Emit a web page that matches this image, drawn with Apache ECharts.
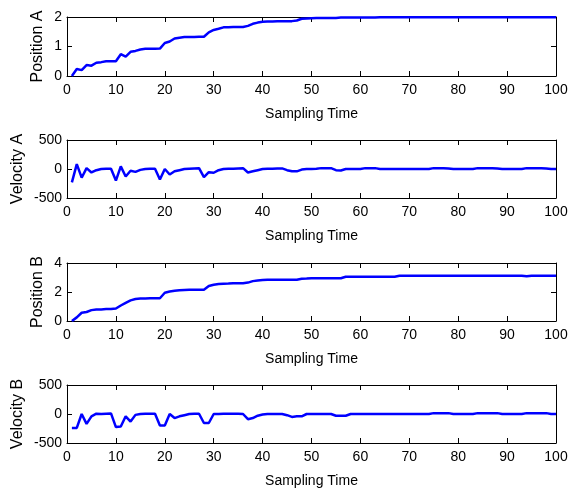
<!DOCTYPE html>
<html>
<head>
<meta charset="utf-8">
<script src="https://cdn.jsdelivr.net/npm/echarts@6/dist/echarts.min.js"></script>
<style>
html,body{margin:0;padding:0;background:#fff;}
#chart{width:568px;height:491px;}
</style>
</head>
<body>
<div id="chart"></div>
<script>
// Sampling times 1..100
const time = Array.from({length: 100}, (_, i) => i + 1);

const positionA = [
  0, 0.24, 0.2, 0.37, 0.35, 0.45, 0.47, 0.5, 0.5, 0.5,
  0.74, 0.66, 0.82, 0.85, 0.9, 0.92, 0.92, 0.92, 0.93, 1.12,
  1.17, 1.27, 1.3, 1.32, 1.32, 1.32, 1.33, 1.33, 1.48, 1.56,
  1.6, 1.65, 1.65, 1.66, 1.66, 1.66, 1.7, 1.77, 1.81, 1.84,
  1.85, 1.85, 1.86, 1.86, 1.86, 1.86, 1.88, 1.94, 1.95, 1.96,
  1.97, 1.97, 1.97, 1.97, 1.97, 1.98, 1.98, 1.98, 1.98, 1.98,
  1.98, 1.98, 1.98, 1.99, 1.99, 1.99, 1.99, 1.99, 1.99, 1.99,
  1.99, 1.99, 1.99, 1.99, 1.99, 1.99, 1.99, 1.99, 1.99, 1.99,
  1.99, 1.99, 1.99, 1.99, 1.99, 1.99, 1.99, 1.99, 1.99, 1.99,
  1.99, 1.99, 1.99, 1.99, 1.99, 1.99, 1.99, 1.99, 1.99, 1.99
];

const velocityA = [
  -230, 85, -150, 15, -60, -20, 0, 5, 5, -200,
  45, -130, -30, -50, -15, 0, 5, 5, -180, 0,
  -95, -40, -20, 0, 5, 10, 15, -140, -55, -65,
  -20, 0, 5, 5, 10, 15, -60, -40, -20, 0,
  5, 5, 10, 10, -20, -40, -40, -10, 0, 0,
  5, 15, 15, 15, -20, -25, 0, 0, 0, 0,
  15, 15, 15, 0, 0, 0, 0, 0, 0, 0,
  0, 0, 0, 0, 15, 15, 15, 10, 0, 0,
  0, 0, 0, 15, 15, 15, 15, 10, 0, 0,
  0, 0, 0, 15, 15, 15, 15, 10, 0, 0
];

const positionB = [
  0, 0.25, 0.57, 0.62, 0.75, 0.8, 0.8, 0.82, 0.82, 0.86,
  1.07, 1.25, 1.42, 1.52, 1.55, 1.56, 1.57, 1.57, 1.57, 1.95,
  2.03, 2.08, 2.12, 2.14, 2.15, 2.15, 2.15, 2.16, 2.42, 2.5,
  2.55, 2.57, 2.58, 2.6, 2.6, 2.6, 2.65, 2.75, 2.8, 2.83,
  2.85, 2.85, 2.85, 2.85, 2.85, 2.85, 2.85, 2.92, 2.93, 2.95,
  2.95, 2.95, 2.95, 2.95, 2.95, 2.95, 3.05, 3.05, 3.05, 3.05,
  3.05, 3.05, 3.05, 3.05, 3.05, 3.05, 3.05, 3.12, 3.12, 3.12,
  3.12, 3.12, 3.12, 3.12, 3.12, 3.12, 3.12, 3.12, 3.12, 3.12,
  3.12, 3.12, 3.12, 3.12, 3.12, 3.12, 3.12, 3.12, 3.12, 3.12,
  3.12, 3.12, 3.12, 3.08, 3.12, 3.12, 3.12, 3.12, 3.12, 3.12
];

const velocityB = [
  -240, -240, 0, -170, -40, 5, 0, 5, 10, -225,
  -215, -40, -130, -15, 0, 5, 5, 5, -200, -200,
  0, -70, -40, -20, 0, 5, 5, -155, -155, 0,
  0, 5, 5, 5, 5, 0, -90, -70, -30, -10,
  0, 0, 0, 0, -20, -50, -40, -40, 0, 0,
  0, 0, 0, 0, -30, -30, -30, 0, 0, 0,
  0, 0, 0, 0, 0, 0, 0, 0, 0, 0,
  0, 0, 0, 0, 15, 15, 15, 15, 0, 0,
  0, 0, 0, 15, 15, 15, 15, 15, 0, 0,
  0, 0, 0, 15, 15, 15, 15, 15, 0, 0
];

const panelNames = ['Position A', 'Velocity A', 'Position B', 'Velocity B'];
const panelData = [positionA, velocityA, positionB, velocityB];
const yMin = [0, -500, 0, -500];
const yMax = [2, 500, 4, 500];
const yStep = [1, 500, 2, 500];
const xName = 'Sampling Time';
const xMin = 0, xMax = 100, xStep = 10;

// layout
const tops = [17, 140, 263, 385];
const heights = [59, 58, 58, 58];
const nameGaps = [21, 41, 21, 41];
const gridLeft = 67, gridWidth = 489;

const font = "'Liberation Sans', Arial, sans-serif";

const grids = [], xAxes = [], yAxes = [], series = [];
for (let i = 0; i < 4; i++) {
  grids.push({left: gridLeft, top: tops[i], width: gridWidth, height: heights[i],
              containLabel: false, outerBoundsMode: 'none'});
  const lineStyle = {color: '#000', width: 1};
  xAxes.push({
    type: 'value', gridIndex: i, min: xMin, max: xMax, interval: xStep, position: 'bottom',
    name: xName, nameLocation: 'middle', nameGap: 31,
    nameTextStyle: {fontFamily: font, fontSize: 14, color: '#000'},
    axisLine: {show: true, onZero: false, lineStyle},
    axisTick: {show: true, inside: true, length: 5, lineStyle},
    axisLabel: {fontFamily: font, fontSize: 14, color: '#000', margin: 7},
    splitLine: {show: false}
  });
  xAxes.push({
    type: 'value', gridIndex: i, min: xMin, max: xMax, interval: xStep, position: 'top',
    axisLine: {show: true, onZero: false, lineStyle},
    axisTick: {show: true, inside: true, length: 5, lineStyle},
    axisLabel: {show: false}, splitLine: {show: false}
  });
  yAxes.push({
    type: 'value', gridIndex: i, min: yMin[i], max: yMax[i], interval: yStep[i], position: 'left',
    name: panelNames[i], nameLocation: 'middle', nameGap: nameGaps[i], nameRotate: 90,
    nameMoveOverlap: false,
    nameTextStyle: {fontFamily: font, fontSize: 16, color: '#000'},
    axisLine: {show: true, onZero: false, lineStyle},
    axisTick: {show: true, inside: true, length: 5, lineStyle},
    axisLabel: {fontFamily: font, fontSize: 14, color: '#000', margin: 5},
    splitLine: {show: false}
  });
  yAxes.push({
    type: 'value', gridIndex: i, min: yMin[i], max: yMax[i], interval: yStep[i], position: 'right',
    axisLine: {show: true, onZero: false, lineStyle},
    axisTick: {show: true, inside: true, length: 5, lineStyle},
    axisLabel: {show: false}, splitLine: {show: false}
  });
  series.push({
    type: 'line', xAxisIndex: 2 * i, yAxisIndex: 2 * i,
    data: time.map((t, k) => [t, panelData[i][k]]),
    showSymbol: false, symbol: 'none',
    lineStyle: {color: '#0000ff', width: 2.5},
    animation: false
  });
}

const chart = echarts.init(document.getElementById('chart'), null, {renderer: 'canvas'});
chart.setOption({
  animation: false,
  backgroundColor: '#fff',
  grid: grids, xAxis: xAxes, yAxis: yAxes, series
});
</script>
</body>
</html>
